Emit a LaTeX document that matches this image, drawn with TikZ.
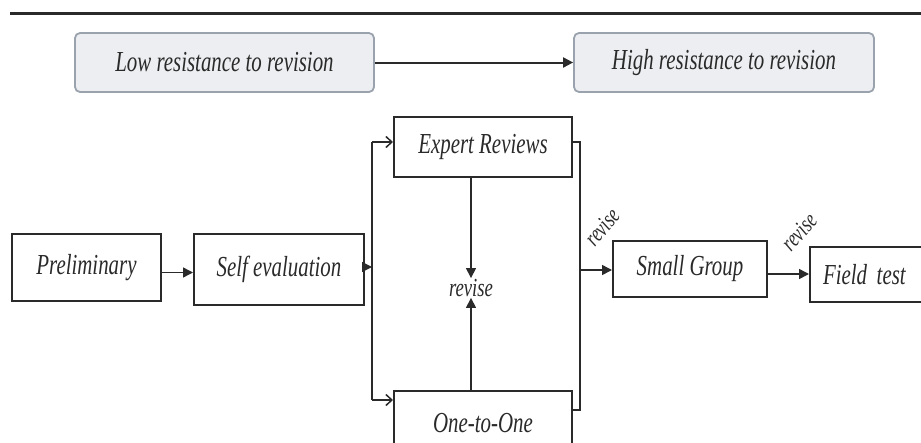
\documentclass[tikz,border=0pt]{standalone}
\usepackage{fontspec}
\newfontfamily\figfont{Liberation Serif}[FakeStretch=0.72]
\usetikzlibrary{arrows.meta,calc}
\definecolor{topfill}{HTML}{ECEEF1}
\definecolor{topdraw}{HTML}{9AA3AD}
\definecolor{ink}{HTML}{2A2A2A}
\tikzset{
  topbox/.style={draw=topdraw, fill=topfill, line width=1.8pt, rounded corners=5pt,
    minimum width=#1, minimum height=59pt, inner sep=0pt,
    font=\figfont\itshape\fontsize{29}{31}\selectfont, text=ink},
  stepbox/.style={draw=ink, line width=2pt, minimum width=#1, inner sep=0pt,
    font=\figfont\itshape\fontsize{29}{31}\selectfont, text=ink},
  conn/.style={draw=ink, line width=1.5pt},
  fa/.style={-{Triangle[length=10pt,width=10pt]}},
  oa/.style={-{Straight Barb[length=6pt,width=11pt,line width=1.5pt]}},
  revlbl/.style={font=\figfont\itshape\fontsize{26}{28}\selectfont, text=ink, inner sep=1pt},
  revrot/.style={font=\figfont\itshape\fontsize{24}{26}\selectfont, text=ink, inner sep=0pt},
}
\begin{document}
\begin{tikzpicture}[x=1pt,y=-1pt]
\useasboundingbox (0,0) rectangle (921,442);
\coordinate (tl) at (10,13);
\coordinate (tr) at (921,13);
\draw[line width=3pt, ink] (tl) -- (tr);

\node[topbox=299pt] (low) at (224.5,62.5) {Low resistance to revision};
\node[topbox=300pt] (high) at (724,62.5) {High resistance to revision};
\draw[conn, line width=2pt, fa] (low.east) -- (high.west);

\node[stepbox=149pt, minimum height=67pt] (pre) at (86.5,267.5) {Preliminary};
\node[stepbox=170pt, minimum height=71pt] (self) at (279,269.5) {Self evaluation};
\node[stepbox=178pt, minimum height=60pt] (expert) at (483,147) {Expert Reviews};
\node[stepbox=178pt, minimum height=70pt] (one) at (483,426) {};
\node[font=\figfont\itshape\fontsize{29}{31}\selectfont, text=ink] (onet) at (483,423) {One-to-One};
\node[revlbl] (rev) at (471,288) {revise};
\node[stepbox=154pt, minimum height=56pt] (small) at (690,269) {Small Group};
\node[stepbox=130pt, minimum height=55pt, text width=120pt, align=left] (field) at (875,274.5) {\hspace*{8pt}Field test};

\coordinate (split) at (372,267);
\coordinate (splitTop) at (372,142);
\coordinate (splitBot) at (372,400);
\coordinate (brTop) at (580,142);
\coordinate (brBot) at (580,410);
\coordinate (brMid) at (580,270);

\draw[conn, fa] ([yshift=-5pt]pre.east) -- ([yshift=-5pt]pre.east -| self.west);
\draw[conn, fa] (self.east |- split) -- (split);
\draw[conn, oa] (splitTop) -- (splitTop -| expert.west);
\draw[conn] (splitTop) -- (splitBot);
\draw[conn, oa] (splitBot) -- (splitBot -| one.west);

\draw[conn, fa] (expert.south -| rev) -- (rev.north);
\draw[conn, fa] (one.north -| rev) -- (rev.south);

\draw[conn] (brTop -| expert.east) -- (brTop) -- (brBot) -- (brBot -| one.east);
\draw[conn, fa] (brMid) -- (brMid -| small.west);
\draw[conn, fa] ([yshift=-5pt]small.east) -- ([yshift=-5pt]small.east -| field.west);

\node[revrot, rotate=50] (rev1) at (602,227) {revise};
\node[revrot, rotate=48] (rev2) at (799,232) {revise};
\end{tikzpicture}
\end{document}
